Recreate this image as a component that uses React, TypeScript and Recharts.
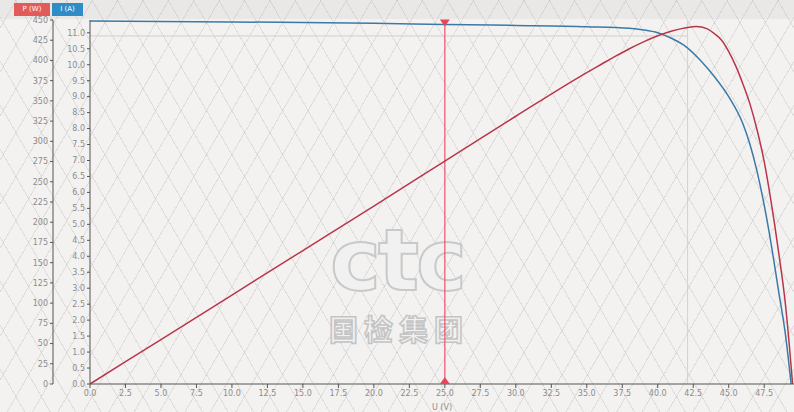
import { LineChart, Line, XAxis, YAxis, ReferenceLine, ReferenceDot } from 'recharts'

// power curve P(U)
const powerV = [0, 5, 10, 15, 20, 25, 30, 35, 36, 37, 38, 39, 40, 41, 42, 42.7, 43.5, 44, 44.5, 45, 45.5, 46, 46.5, 47, 47.5, 48, 48.5, 49, 49.3, 49.5]
const powerW = [0, 55, 110, 165, 220, 275.5, 331, 385, 395, 405, 414.5, 423, 430.5, 436.5, 440.5, 442, 439, 433, 425, 411, 393, 371, 346, 314, 275, 224, 165, 98, 42, 0]

// current curve I(U)
const currentV = [0, 5, 10, 15, 20, 25, 30, 35, 38, 39, 40, 41, 42, 43, 44, 45, 46, 46.5, 47, 47.5, 48, 48.5, 49, 49.4]
const currentA = [11.37, 11.35, 11.34, 11.32, 11.3, 11.26, 11.23, 11.19, 11.14, 11.09, 11.0, 10.82, 10.56, 10.14, 9.62, 9.0, 8.15, 7.5, 6.65, 5.6, 4.36, 2.95, 1.54, 0]

const uTicks = [0, 2.5, 5, 7.5, 10, 12.5, 15, 17.5, 20, 22.5, 25, 27.5, 30, 32.5, 35, 37.5, 40, 42.5, 45, 47.5]
const pTicks = [0, 25, 50, 75, 100, 125, 150, 175, 200, 225, 250, 275, 300, 325, 350, 375, 400, 425, 450]
const iTicks = [0, 0.5, 1, 1.5, 2, 2.5, 3, 3.5, 4, 4.5, 5, 5.5, 6, 6.5, 7, 7.5, 8, 8.5, 9, 9.5, 10, 10.5, 11]

const cursorU = 25
const mppU = 42.1
const mppI = 10.9

const powerData = powerV.map((v, k) => ({ v, p: powerW[k] }))
const currentData = currentV.map((v, k) => ({ v, i: currentA[k] }))

const tickStyle = { fontSize: 8, fill: '#8c8c8c', fontFamily: 'DejaVu Sans' }

const TriDown = (props: any) => {
  const { cx, cy } = props
  return <path d={`M${cx - 5},${cy - 3} L${cx + 5},${cy - 3} L${cx},${cy + 4} Z`} fill="#e8445a" />
}
const TriUp = (props: any) => {
  const { cx, cy } = props
  return <path d={`M${cx - 5},${cy} L${cx + 5},${cy} L${cx},${cy - 7} Z`} fill="#e8445a" />
}

export default function App() {
  return (
    <div style={{
      position: 'absolute', left: 0, top: 0, width: 794, height: 412, overflow: 'hidden',
      background: '#f3f2f1', fontFamily: 'DejaVu Sans'
    }}>
      {/* header strip */}
      <div style={{ position: 'absolute', left: 0, top: 0, width: 794, height: 19, background: '#e9e8e7' }} />
      {/* paper lattice */}
      <div style={{
        position: 'absolute', inset: 0,
        backgroundImage:
          'repeating-linear-gradient(60deg, transparent 0px, transparent 21px, rgba(170,170,170,0.28) 21px, rgba(170,170,170,0.28) 22px),' +
          'repeating-linear-gradient(-60deg, transparent 0px, transparent 21px, rgba(170,170,170,0.28) 21px, rgba(170,170,170,0.28) 22px)'
      }} />
      <div style={{ position: 'absolute', left: 14, top: 3, width: 36, height: 13, background: '#e25a5a', color: '#fff', fontSize: 7, lineHeight: '13px', textAlign: 'center' }}>P (W)</div>
      <div style={{ position: 'absolute', left: 52, top: 3, width: 31, height: 13, background: '#2f8cc4', color: '#fff', fontSize: 7, lineHeight: '13px', textAlign: 'center' }}>I (A)</div>

      {/* watermark */}
      <svg width={794} height={412} style={{ position: 'absolute', left: 0, top: 0 }}>
        <text x={397} y={290} textAnchor="middle" fontSize={86} fontWeight="bold" fontFamily="DejaVu Sans"
          fill="#f1f1f1" stroke="#c9c9c9" strokeWidth={2} letterSpacing={-3}>ctc</text>
        <text x={399} y={341} textAnchor="middle" fontSize={29} fontWeight="bold" fontFamily="Noto Sans CJK SC"
          fill="#f1f1f1" stroke="#c4c4c4" strokeWidth={1.5} letterSpacing={6}>国检集团</text>
      </svg>

      <div style={{ position: 'absolute', left: 0, top: 0 }}>
        <LineChart width={794} height={412} margin={{ top: 20, right: 0, bottom: 0, left: 0 }}>
          <XAxis type="number" dataKey="v" domain={[0, 49.6]} ticks={uTicks} allowDataOverflow
            tickFormatter={(v: number) => v.toFixed(1)} tick={tickStyle} tickSize={4}
            stroke="#555" height={28}
            label={{ value: 'U (V)', position: 'insideBottom', offset: 2, fontSize: 8, fill: '#8c8c8c' }} />
          <YAxis yAxisId="i" orientation="left" width={37} domain={[0, 11.4]} ticks={iTicks}
            tickFormatter={(v: number) => v.toFixed(1)} tick={tickStyle} tickSize={3} stroke="#555" />
          <YAxis yAxisId="p" orientation="left" width={53} domain={[0, 450]} ticks={pTicks}
            tick={tickStyle} tickSize={3} stroke="#555" />

          <ReferenceLine yAxisId="i" segment={[{ x: 0, y: mppI }, { x: mppU, y: mppI }]} stroke="#cfcfcf" strokeWidth={1} />
          <ReferenceLine yAxisId="i" x={mppU} stroke="#d2d2d2" strokeWidth={1} />
          <ReferenceLine yAxisId="p" x={cursorU} stroke="#e8546a" strokeWidth={1.2} />

          <Line yAxisId="i" data={currentData} dataKey="i" type="monotone" stroke="#3b7aa8"
            strokeWidth={1.5} dot={false} isAnimationActive={false} />
          <Line yAxisId="p" data={powerData} dataKey="p" type="monotone" stroke="#b8364a"
            strokeWidth={1.5} dot={false} isAnimationActive={false} />

          <ReferenceDot yAxisId="p" x={cursorU} y={447} shape={TriDown} />
          <ReferenceDot yAxisId="p" x={cursorU} y={0} shape={TriUp} />
        </LineChart>
      </div>
    </div>
  )
}
